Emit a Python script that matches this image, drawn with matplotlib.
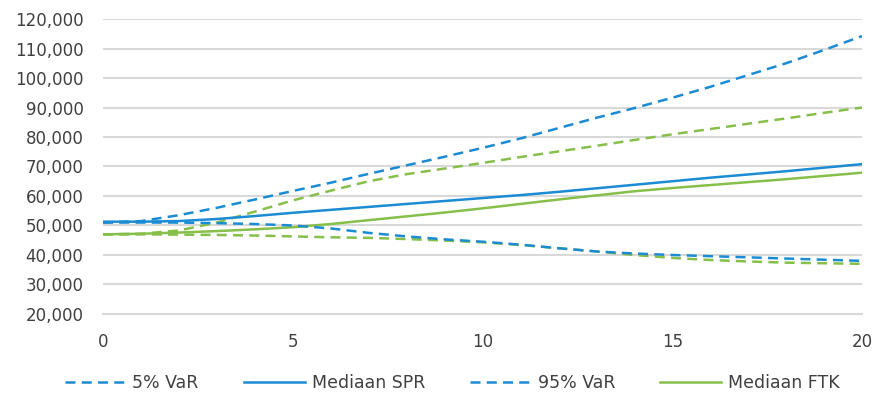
import matplotlib
matplotlib.use('Agg')
import matplotlib.pyplot as plt
from matplotlib.ticker import FuncFormatter

years = list(range(0, 21))

var5_spr = [51000, 51000, 51000, 50800, 50500, 50000, 49000, 47500, 46300, 45300, 44500,
            43500, 42300, 41200, 40500, 40000, 39600, 39200, 38800, 38400, 38000]
med_spr = [51300, 51300, 51500, 52200, 53200, 54300, 55300, 56300, 57300, 58300, 59300,
           60300, 61400, 62600, 63800, 65000, 66200, 67300, 68400, 69600, 70800]
var95_spr = [51000, 51500, 53500, 56000, 58800, 61700, 64500, 67500, 70400, 73300, 76300,
             79500, 83000, 86500, 89800, 93300, 97000, 101000, 105000, 109500, 114200]
med_ftk = [47000, 47200, 47600, 48100, 48700, 49400, 50500, 51800, 53100, 54400, 55800,
           57300, 58800, 60200, 61600, 62700, 63700, 64700, 65700, 66800, 67900]
var5_ftk = [47000, 47000, 46900, 46800, 46600, 46300, 46000, 45800, 45400, 44900, 44300,
            43400, 42300, 41200, 40000, 39000, 38300, 37800, 37400, 37200, 37000]
var95_ftk = [47000, 47200, 48300, 51000, 54700, 58500, 61800, 65000, 67400, 69300, 71200,
             73200, 75100, 77000, 79000, 80900, 82700, 84500, 86300, 88200, 90000]

blue = '#1b8bd3'
green = '#86bf4a'
grey_text = '#404040'
grid_col = '#d9d9d9'

fig = plt.figure(figsize=(8.73, 4.01), dpi=100)
ax = fig.add_axes([0.118, 0.217, 0.8694, 0.7356])

lw = 1.8
dash = (4, 2.5)
ax.plot(years, var5_ftk, color=green, lw=lw, dashes=dash)
ax.plot(years, var95_ftk, color=green, lw=lw, dashes=dash)
ax.plot(years, med_ftk, color=green, lw=lw, label='Mediaan FTK')
ax.plot(years, var5_spr, color=blue, lw=lw, dashes=dash, label='5% VaR')
ax.plot(years, var95_spr, color=blue, lw=lw, dashes=dash, label='95% VaR')
ax.plot(years, med_spr, color=blue, lw=lw, label='Mediaan SPR')

ax.set_xlim(0, 20)
ax.set_ylim(20000, 120000)
ax.set_xticks([0, 5, 10, 15, 20])
ax.set_yticks(range(20000, 120001, 10000))
ax.yaxis.set_major_formatter(FuncFormatter(lambda v, p: '{:,.0f}'.format(v)))
ax.grid(axis='y', color=grid_col, lw=1.5)
ax.set_axisbelow(True)
for s in ['top', 'right', 'left']:
    ax.spines[s].set_visible(False)
ax.spines['bottom'].set_color(grid_col)
ax.spines['bottom'].set_linewidth(1.5)
ax.tick_params(axis='both', length=0, labelsize=12, labelcolor=grey_text)
ax.tick_params(axis='x', pad=14)
ax.tick_params(axis='y', pad=14)
ax.set_xticks([0, 20], minor=True)
ax.tick_params(axis='x', which='minor', direction='in', length=7, width=1.2, color=grid_col)

h, l = ax.get_legend_handles_labels()
order = ['5% VaR', 'Mediaan SPR', '95% VaR', 'Mediaan FTK']
hs = [h[l.index(o)] for o in order]
fig.legend(hs, order, loc='center', bbox_to_anchor=(0.518, 0.045), ncol=4, frameon=False,
           fontsize=12.5, handlelength=3.5, columnspacing=2.6, handletextpad=0.4,
           labelcolor=grey_text)

fig.savefig('out.png', dpi=100)
